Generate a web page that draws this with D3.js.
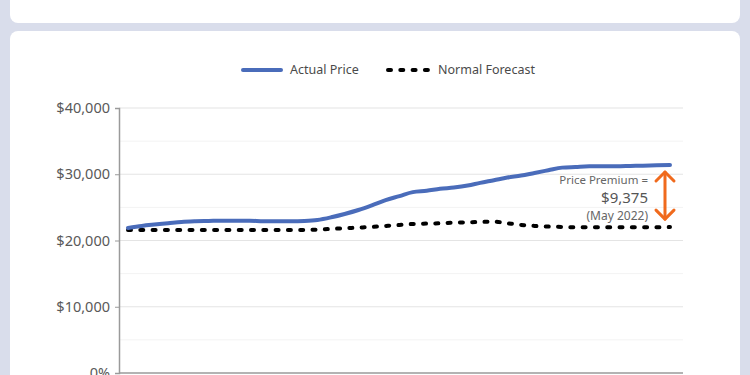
<!DOCTYPE html>
<html><head><meta charset="utf-8">
<script src="https://cdn.jsdelivr.net/npm/d3@7"></script>
<style>
html,body{margin:0;padding:0;background:#d9ddeb;}
svg{display:block;font-family:"Noto Sans","Open Sans",sans-serif;}
</style></head>
<body><div id="chart"></div>
<script>
// Monthly, Jan 2019 .. May 2022
const months = d3.timeMonths(new Date(2019,0,1), new Date(2022,5,1));
const actualPrice = [21.9,22.2,22.4,22.6,22.8,22.9,22.95,23.0,23.0,23.0,22.9,22.9,22.9,22.95,23.1,23.5,24.0,24.6,25.3,26.1,26.7,27.3,27.5,27.8,28.0,28.3,28.7,29.1,29.5,29.8,30.2,30.6,31.0,31.1,31.2,31.2,31.2,31.25,31.3,31.35,31.4].map(v=>v*1000);
const normalForecast = [21.6,21.6,21.6,21.6,21.6,21.6,21.6,21.6,21.6,21.6,21.6,21.6,21.6,21.6,21.65,21.75,21.85,21.95,22.05,22.2,22.35,22.5,22.55,22.6,22.7,22.75,22.8,22.85,22.6,22.35,22.2,22.1,22.05,22.0,22.0,22.0,22.0,22.0,22.0,22.0,22.025].map(v=>v*1000);
const yTicks = [0,10000,20000,30000,40000];
const yMinorTicks = [5000,15000,25000,35000];
const legendLabels = ["Actual Price","Normal Forecast"];
const annotationLines = ["Price Premium =","$9,375","(May 2022)"];

const W=750,H=375;
const svg=d3.select("#chart").append("svg").attr("width",W).attr("height",H);
svg.append("rect").attr("width",W).attr("height",H).attr("fill","#d9ddeb");
svg.append("rect").attr("x",10).attr("y",-12).attr("width",730).attr("height",35).attr("rx",8).attr("fill","#fff");
svg.append("rect").attr("x",10).attr("y",31).attr("width",730).attr("height",370).attr("rx",8).attr("fill","#fff");

const x=d3.scaleTime().domain([months[0],months[months.length-1]]).range([128,670]);
const y=d3.scaleLinear().domain([0,40000]).range([373,108]);
const gridX0=119, gridX1=683;

// grid
svg.append("g").selectAll("line.minor").data(yMinorTicks).join("line")
  .attr("x1",gridX0).attr("x2",gridX1).attr("y1",d=>y(d)).attr("y2",d=>y(d))
  .attr("stroke","#f3f3f3").attr("stroke-width",1);
svg.append("g").selectAll("line.major").data(yTicks.filter(d=>d>0)).join("line")
  .attr("x1",gridX0).attr("x2",gridX1).attr("y1",d=>y(d)).attr("y2",d=>y(d))
  .attr("stroke","#e4e4e4").attr("stroke-width",1.2);

// axes
const yAxis=d3.axisLeft(y).tickValues(yTicks).tickSize(4).tickPadding(5)
  .tickFormat(d=>d===0?"0%":"$"+d3.format(",")(d));
const gy=svg.append("g").attr("transform",`translate(${gridX0},0)`).call(yAxis);
gy.select(".domain").attr("stroke","#9a9a9a").attr("stroke-width",1.5);
gy.selectAll(".tick line").attr("stroke","#9a9a9a");
gy.selectAll(".tick text").attr("fill","#595959").attr("font-size",14.5).attr("font-family","Noto Sans, sans-serif");
svg.append("line").attr("x1",gridX0).attr("x2",gridX1).attr("y1",y(0)).attr("y2",y(0)).attr("stroke","#9a9a9a").attr("stroke-width",1.5);

// lines
const line=d3.line().x((d,i)=>x(months[i])).y(d=>y(d)).curve(d3.curveMonotoneX);
svg.append("path").datum(normalForecast).attr("d",line).attr("fill","none")
  .attr("stroke","#000").attr("stroke-width",4).attr("stroke-linecap","round").attr("stroke-dasharray","3,9.3");
svg.append("path").datum(actualPrice).attr("d",line).attr("fill","none")
  .attr("stroke","#4a6cba").attr("stroke-width",4).attr("stroke-linecap","round");

// legend
const lg=svg.append("g");
lg.append("line").attr("x1",243).attr("x2",281).attr("y1",70).attr("y2",70).attr("stroke","#4a6cba").attr("stroke-width",4).attr("stroke-linecap","round");
lg.append("text").attr("x",290).attr("y",74).text(legendLabels[0]).attr("font-size",12.5).attr("fill","#4a4a4a");
lg.append("line").attr("x1",388).attr("x2",428).attr("y1",70).attr("y2",70).attr("stroke","#000").attr("stroke-width",4).attr("stroke-linecap","round").attr("stroke-dasharray","3,9.3");
lg.append("text").attr("x",438).attr("y",74).text(legendLabels[1]).attr("font-size",12.5).attr("fill","#4a4a4a");

// annotation
const last=months[months.length-1];
const ax=x(last)-5;
const yTop=y(actualPrice[actualPrice.length-1])+7, yBot=y(normalForecast[normalForecast.length-1])-8;
const orange="#f06a1d";
const ann=svg.append("g").attr("stroke",orange).attr("stroke-width",3).attr("fill","none").attr("stroke-linecap","round").attr("stroke-linejoin","round");
ann.append("line").attr("x1",ax).attr("x2",ax).attr("y1",yTop).attr("y2",yBot);
ann.append("path").attr("d",`M${ax-9},${yTop+9}L${ax},${yTop}L${ax+9},${yTop+9}`);
ann.append("path").attr("d",`M${ax-9},${yBot-9}L${ax},${yBot}L${ax+9},${yBot-9}`);
const tx=648;
svg.append("text").attr("x",tx).attr("y",184).attr("text-anchor","end").attr("font-size",11.5).attr("fill","#666").text(annotationLines[0]);
svg.append("text").attr("x",tx).attr("y",203).attr("text-anchor","end").attr("font-size",15).attr("fill","#555").text(annotationLines[1]);
svg.append("text").attr("x",tx).attr("y",219.5).attr("text-anchor","end").attr("font-size",12).attr("fill","#666").text(annotationLines[2]);
</script></body></html>
